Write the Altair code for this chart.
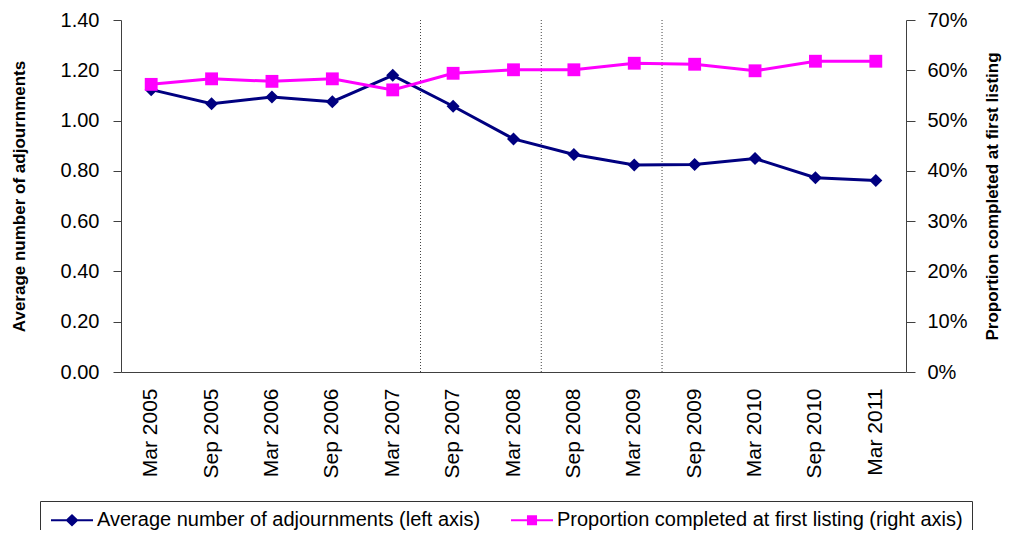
import altair as alt
import pandas as pd

periods = ["Mar 2005", "Sep 2005", "Mar 2006", "Sep 2006", "Mar 2007", "Sep 2007",
           "Mar 2008", "Sep 2008", "Mar 2009", "Sep 2009", "Mar 2010", "Sep 2010", "Mar 2011"]
adjournments = [1.123, 1.067, 1.094, 1.075, 1.180, 1.057, 0.927, 0.865, 0.823, 0.825, 0.849, 0.773, 0.762]
proportion = [0.572, 0.583, 0.578, 0.583, 0.561, 0.594, 0.601, 0.601, 0.614, 0.612, 0.599, 0.618, 0.618]
divider_after = ["Mar 2007", "Mar 2008", "Mar 2009"]
series_names = ["Average number of adjournments (left axis)",
                "Proportion completed at first listing (right axis)"]
left_ticks = [0, 0.2, 0.4, 0.6, 0.8, 1.0, 1.2, 1.4]
right_ticks = [0, 0.1, 0.2, 0.3, 0.4, 0.5, 0.6, 0.7]

NAVY = "#000080"
MAGENTA = "#FF00FF"
AXIS_COL = "#404040"
FONT = "Liberation Sans"

df = pd.DataFrame({"period": periods, "adj": adjournments, "prop": proportion})
legend_df = pd.DataFrame({"period": periods[:2], "series": series_names})
rules_df = pd.DataFrame({"period": divider_after})

x_scale = alt.Scale(type="band", domain=periods, paddingInner=0, paddingOuter=0)
x_axis = alt.Axis(title=None, labelAngle=270, labelFontSize=21, labelPadding=16,
                  ticks=False, tickSize=0, domainColor=AXIS_COL, labelColor="black",
                  labelFont=FONT)
x_enc = alt.X("period:N", scale=x_scale, axis=x_axis)

left_y = alt.Y("adj:Q",
               scale=alt.Scale(domain=[0, 1.4], nice=False, zero=True),
               axis=alt.Axis(orient="left", values=left_ticks, format=".2f", grid=False,
                             title="Average number of adjournments", titleFontSize=17,
                             titleFontWeight="bold", titleAngle=270, titleX=-102, titleY=176,
                             titleAlign="center", titleBaseline="middle", titleColor="black",
                             titleFont=FONT,
                             labelFontSize=20, labelColor="black", labelFont=FONT,
                             labelPadding=14, tickSize=8, tickColor=AXIS_COL,
                             domainColor=AXIS_COL))
right_y = alt.Y("prop:Q",
                scale=alt.Scale(domain=[0, 0.7], nice=False, zero=True),
                axis=alt.Axis(orient="right", values=right_ticks, format=".0%", grid=False,
                              title="Proportion completed at first listing", titleFontSize=17,
                              titleFontWeight="bold", titleAngle=270, titleX=86, titleY=176,
                              titleAlign="center", titleBaseline="middle", titleColor="black",
                              titleFont=FONT,
                              labelFontSize=20, labelColor="black", labelFont=FONT,
                              labelPadding=12, tickSize=9, tickColor=AXIS_COL,
                              domainColor=AXIS_COL))

base = alt.Chart(df)
left = alt.layer(
    base.mark_line(color=NAVY, strokeWidth=3).encode(x=x_enc, y=left_y),
    base.mark_point(shape="diamond", filled=True, size=170, color=NAVY, opacity=1)
        .encode(x=x_enc, y=left_y),
)
right = alt.layer(
    base.mark_line(color=MAGENTA, strokeWidth=3).encode(x=x_enc, y=right_y),
    base.mark_point(shape="square", filled=True, size=165, color=MAGENTA, opacity=1)
        .encode(x=x_enc, y=right_y),
)

rules = alt.Chart(rules_df).mark_rule(color="#444444", strokeWidth=1, strokeDash=[1, 2]).encode(
    x=alt.X("period:N", scale=x_scale, axis=x_axis, bandPosition=0.96)
)

diamond_path = "M-2,-0.095L2,-0.095L2,0.095L-2,0.095Z M0,-0.6L0.62,0L0,0.6L-0.62,0Z"
square_path = "M-2,-0.095L2,-0.095L2,0.095L-2,0.095Z M-0.48,-0.48L0.48,-0.48L0.48,0.48L-0.48,0.48Z"

legend_props = dict(title=None, orient="none", legendX=-81, legendY=481, direction="horizontal",
                    columns=2, strokeColor="#333333", fillColor="white", padding=8.5,
                    labelFont=FONT, labelFontSize=20, labelColor="black", labelLimit=600,
                    symbolOffset=13, labelOffset=14.5, columnPadding=28, symbolSize=441,
                    symbolOpacity=1, symbolStrokeWidth=0)

legend_layer = alt.Chart(legend_df).mark_point(filled=True, opacity=0, size=441).encode(
    x=x_enc,
    color=alt.Color("series:N", scale=alt.Scale(domain=series_names, range=[NAVY, MAGENTA]),
                    legend=alt.Legend(**legend_props)),
    shape=alt.Shape("series:N", scale=alt.Scale(domain=series_names,
                                                range=[diamond_path, square_path]),
                    legend=alt.Legend(**legend_props)),
)

chart = alt.layer(rules, left, right, legend_layer).resolve_scale(
    y="independent"
).properties(
    width=785, height=352,
    autosize=alt.AutoSizeParams(type="none"),
    padding={"left": 113, "top": 12, "right": 97, "bottom": 158},
).configure_view(strokeWidth=0)

chart.save("out.html", embed_options={"renderer": "svg", "actions": False})
